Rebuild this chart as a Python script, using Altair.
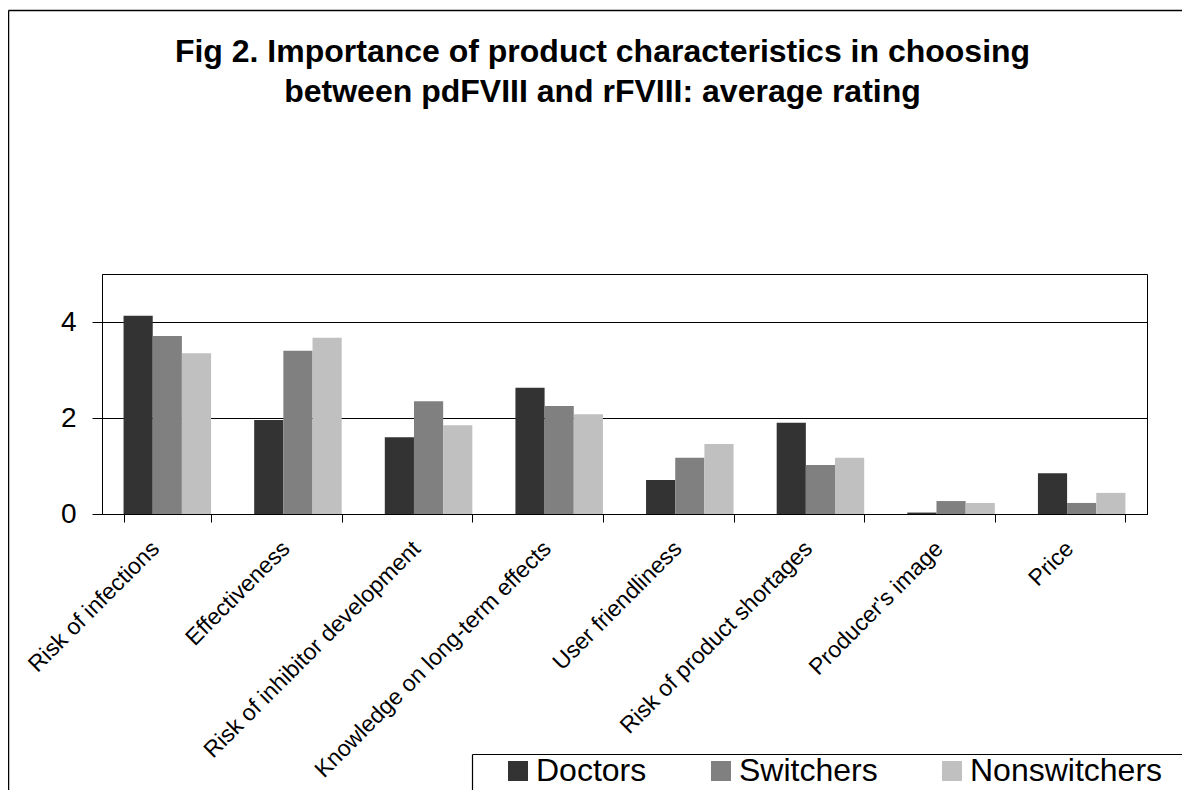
import altair as alt
import pandas as pd

categories = ["Risk of infections", "Effectiveness", "Risk of inhibitor development",
              "Knowledge on long-term effects", "User friendliness",
              "Risk of product shortages", "Producer's image", "Price"]
groups = ["Doctors", "Switchers", "Nonswitchers"]
doctors = [4.13, 1.96, 1.60, 2.63, 0.71, 1.90, 0.03, 0.85]
switchers = [3.71, 3.40, 2.35, 2.25, 1.17, 1.02, 0.27, 0.23]
nonswitchers = [3.35, 3.67, 1.85, 2.08, 1.46, 1.17, 0.23, 0.44]
colors = ["#333333", "#808080", "#c0c0c0"]
y_ticks = [0, 2, 4]
title_lines = ["Fig 2. Importance of product characteristics in choosing",
               "between pdFVIII and rFVIII: average rating"]

rows = []
for g, vals in zip(groups, [doctors, switchers, nonswitchers]):
    for c, v in zip(categories, vals):
        rows.append({"category": c, "group": g, "value": v})
df = pd.DataFrame(rows)

FONT = "Liberation Sans, Arial, Helvetica, sans-serif"

bars = alt.Chart(df).mark_bar(strokeWidth=0).encode(
    x=alt.X("category:N", sort=categories, title=None,
            scale=alt.Scale(paddingInner=0.33, paddingOuter=0.165),
            axis=alt.Axis(labelAngle=-45, labelFontSize=23, labelColor="black",
                          labelFont=FONT, tickBand="extent", tickSize=8,
                          tickColor="black", domainColor="black",
                          labelPadding=15, labelOffset=-20, labelLimit=400)),
    xOffset=alt.XOffset("group:N", sort=groups,
                        scale=alt.Scale(paddingInner=0, paddingOuter=0)),
    y=alt.Y("value:Q", title=None,
            scale=alt.Scale(domain=[0, 5], nice=False),
            axis=alt.Axis(values=y_ticks, labelFontSize=28, labelColor="black",
                          labelFont=FONT, tickSize=10, tickColor="black",
                          domainColor="black", labelPadding=16,
                          grid=True, gridColor="black", gridWidth=1)),
    color=alt.Color("group:N", sort=groups, title=None,
                    scale=alt.Scale(domain=groups, range=colors),
                    legend=alt.Legend(orient="none", legendX=400, legendY=481,
                                      direction="horizontal", symbolType="square",
                                      symbolSize=400, symbolStrokeWidth=0,
                                      labelFontSize=32, labelFont=FONT,
                                      labelColor="black", labelOffset=2,
                                      labelLimit=400,
                                      columnPadding=58, padding=0)),
)

dummy = alt.Data(values=[{"k": 1}])


def frame_lines(x0, y0, width):
    left = alt.Chart(dummy).mark_rule(color="black", strokeWidth=width).encode(
        x=alt.value(x0), y=alt.value(y0), y2=alt.value(900))
    top = alt.Chart(dummy).mark_rule(color="black", strokeWidth=width).encode(
        x=alt.value(x0), x2=alt.value(1200), y=alt.value(y0))
    return [left, top]


layers = frame_lines(-93.5, -263.5, 1.5) + [bars] + frame_lines(370.5, 480.5, 1.2)

chart = alt.layer(*layers).properties(
    width=1045, height=240,
    autosize=alt.AutoSizeParams(type="none"),
    padding={"left": 94, "top": 266, "right": 35, "bottom": 276},
    title=alt.Title(title_lines, fontSize=32, font=FONT, fontWeight="bold",
                    color="black", anchor="middle", frame="group", dx=-22,
                    offset=-99, lineHeight=40),
).configure_view(stroke="black", strokeWidth=1)

chart.save("out.html", embed_options={"renderer": "svg", "actions": False})
